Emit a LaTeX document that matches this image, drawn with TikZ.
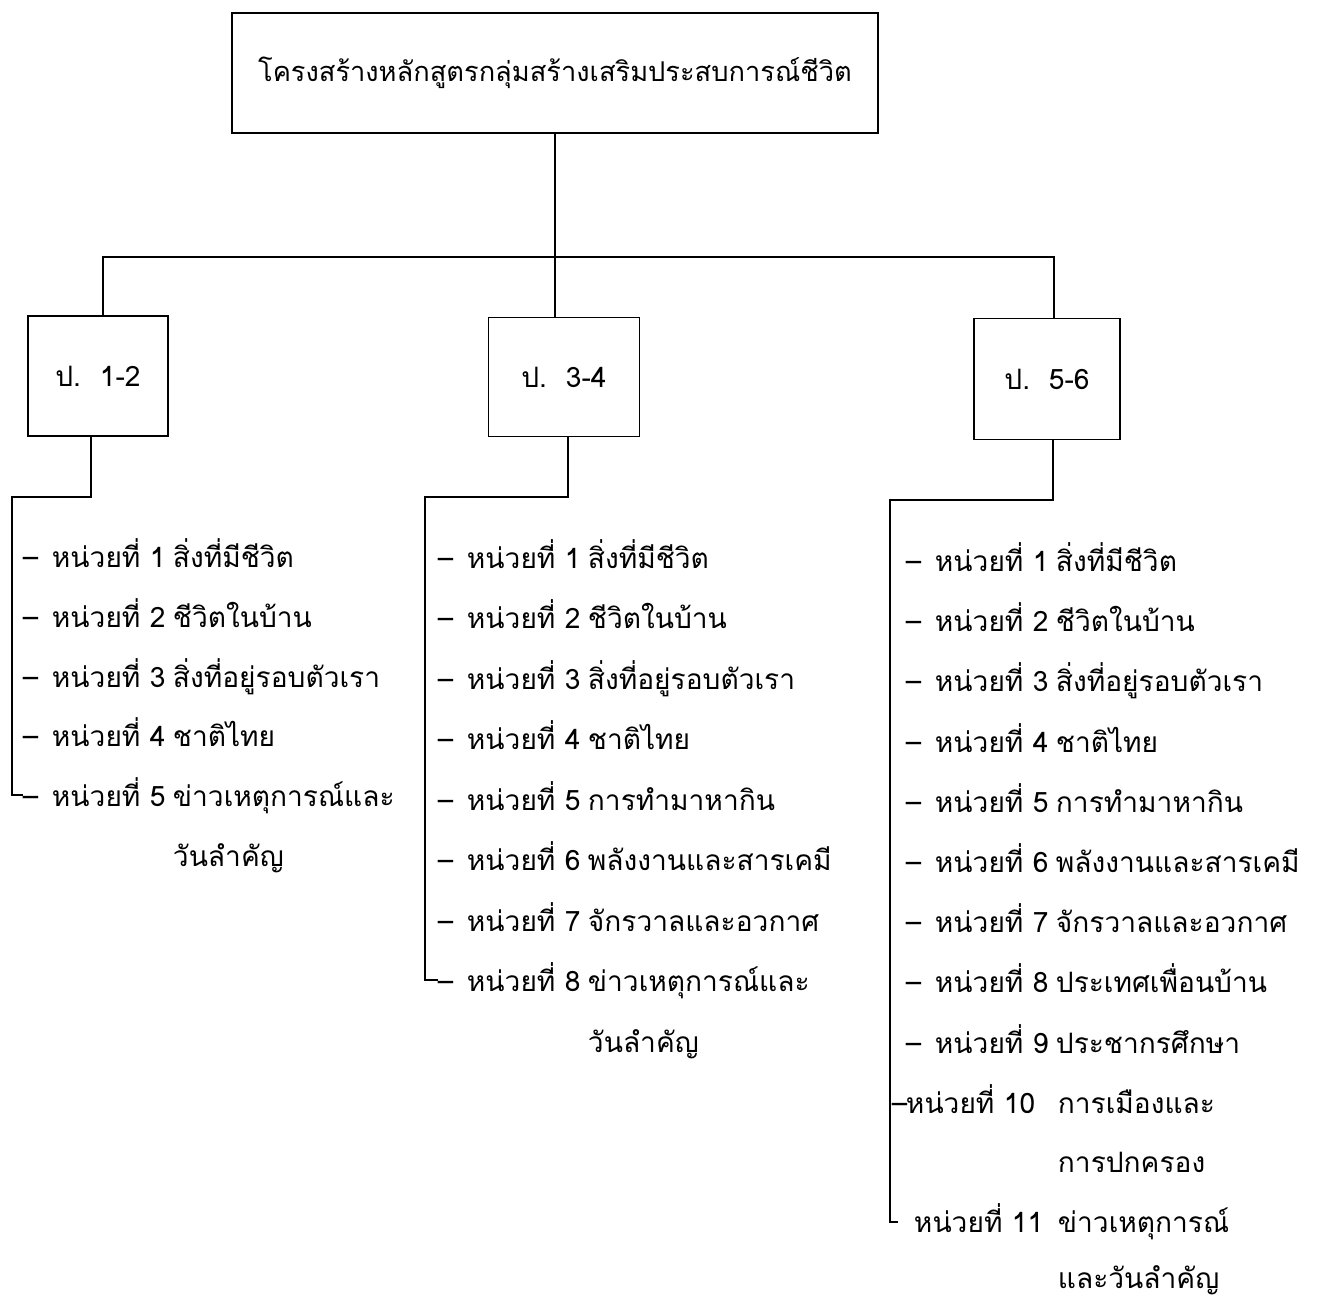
\documentclass[tikz,border=0pt]{standalone}
\usepackage{fontspec}
\newfontfamily\thaifont[Script=Thai]{Loma}
\newcommand{\urow}[2]{\makebox[0.58cm][l]{–}\makebox[1.96cm][l]{หน่วยที่}\makebox[0.46cm][l]{#1}#2}

\begin{document}
\begin{tikzpicture}[x=0.02cm,y=-0.02cm,line width=1.1pt,
    box/.style={draw,inner sep=0pt,font=\thaifont\fontsize{16}{19}\selectfont},
    item/.style={anchor=base west,inner sep=0pt,font=\thaifont\fontsize{16}{19}\selectfont}]
    \useasboundingbox (0,0) rectangle (1318,1302);
    \node[box,minimum width=12.92cm,minimum height=2.4cm,font=\thaifont\fontsize{15.5}{18}\selectfont] (top) at (555,73) {โครงสร้างหลักสูตรกลุ่มสร้างเสริมประสบการณ์ชีวิต};
    \node[box,minimum width=2.8cm,minimum height=2.4cm] (b1) at (98,376) {ป.\ \ 1-2};
    \node[box,minimum width=3.02cm,minimum height=2.38cm] (b2) at (564,377) {ป.\ \ 3-4};
    \node[box,minimum width=2.92cm,minimum height=2.42cm] (b3) at (1047,379) {ป.\ \ 5-6};
    \coordinate (h1) at (103,257);
    \coordinate (h3) at (1054,257);
    \draw (top.south) -- (top.south |- h1);
    \draw (h1 |- b1.north) -- (h1) -- (h3) -- (h3 |- b3.north);
    \draw (top.south |- h1) -- (top.south |- b2.north);

    \node[item] (a1) at (22,567) {\urow{1}{สิ่งที่มีชีวิต}};
    \node[item] (a2) at (22,627) {\urow{2}{ชีวิตในบ้าน}};
    \node[item] (a3) at (22,687) {\urow{3}{สิ่งที่อยู่รอบตัวเรา}};
    \node[item] (a4) at (22,746) {\urow{4}{ชาติไทย}};
    \node[item] (a5) at (22,806) {\urow{5}{ข่าวเหตุการณ์และ}};
    \node[item] (a6) at (172,866) {วันลำคัญ};
    \coordinate (j1) at (91,497);
    \coordinate (k1) at (12,497);
    \draw (j1 |- b1.south) -- (j1) -- (k1) -- (12,795) -- (23,795);

    \node[item] (c1) at (437,568) {\urow{1}{สิ่งที่มีชีวิต}};
    \node[item] (c2) at (437,628) {\urow{2}{ชีวิตในบ้าน}};
    \node[item] (c3) at (437,689) {\urow{3}{สิ่งที่อยู่รอบตัวเรา}};
    \node[item] (c4) at (437,749) {\urow{4}{ชาติไทย}};
    \node[item] (c5) at (437,810) {\urow{5}{การทำมาหากิน}};
    \node[item] (c6) at (437,870) {\urow{6}{พลังงานและสารเคมี}};
    \node[item] (c7) at (437,931) {\urow{7}{จักรวาลและอวกาศ}};
    \node[item] (c8) at (437,991) {\urow{8}{ข่าวเหตุการณ์และ}};
    \node[item] (c9) at (587,1052) {วันลำคัญ};
    \coordinate (j2) at (568,497);
    \coordinate (k2) at (425,497);
    \draw (j2 |- b2.south) -- (j2) -- (k2) -- (425,980) -- (438,980);

    \node[item] (e1) at (905,571) {\urow{1}{สิ่งที่มีชีวิต}};
    \node[item] (e2) at (905,631) {\urow{2}{ชีวิตในบ้าน}};
    \node[item] (e3) at (905,691) {\urow{3}{สิ่งที่อยู่รอบตัวเรา}};
    \node[item] (e4) at (905,752) {\urow{4}{ชาติไทย}};
    \node[item] (e5) at (905,812) {\urow{5}{การทำมาหากิน}};
    \node[item] (e6) at (905,872) {\urow{6}{พลังงานและสารเคมี}};
    \node[item] (e7) at (905,932) {\urow{7}{จักรวาลและอวกาศ}};
    \node[item] (e8) at (905,992) {\urow{8}{ประเทศเพื่อนบ้าน}};
    \node[item] (e9) at (905,1053) {\urow{9}{ประชากรศึกษา}};
    \node[item] (e10) at (891,1113) {\makebox[0.28cm][l]{–}\makebox[1.96cm][l]{หน่วยที่}\makebox[1.08cm][l]{10}การเมืองและ};
    \node[item] (e11) at (1057,1172) {การปกครอง};
    \node[item] (e12) at (913,1232) {\makebox[1.96cm][l]{หน่วยที่}\makebox[0.92cm][l]{11}ข่าวเหตุการณ์};
    \node[item] (e13) at (1057,1288) {และวันลำคัญ};
    \coordinate (j3) at (1053,500);
    \coordinate (k3) at (890,500);
    \draw (j3 |- b3.south) -- (j3) -- (k3) -- (890,1222) -- (898,1222);
\end{tikzpicture}
\end{document}
